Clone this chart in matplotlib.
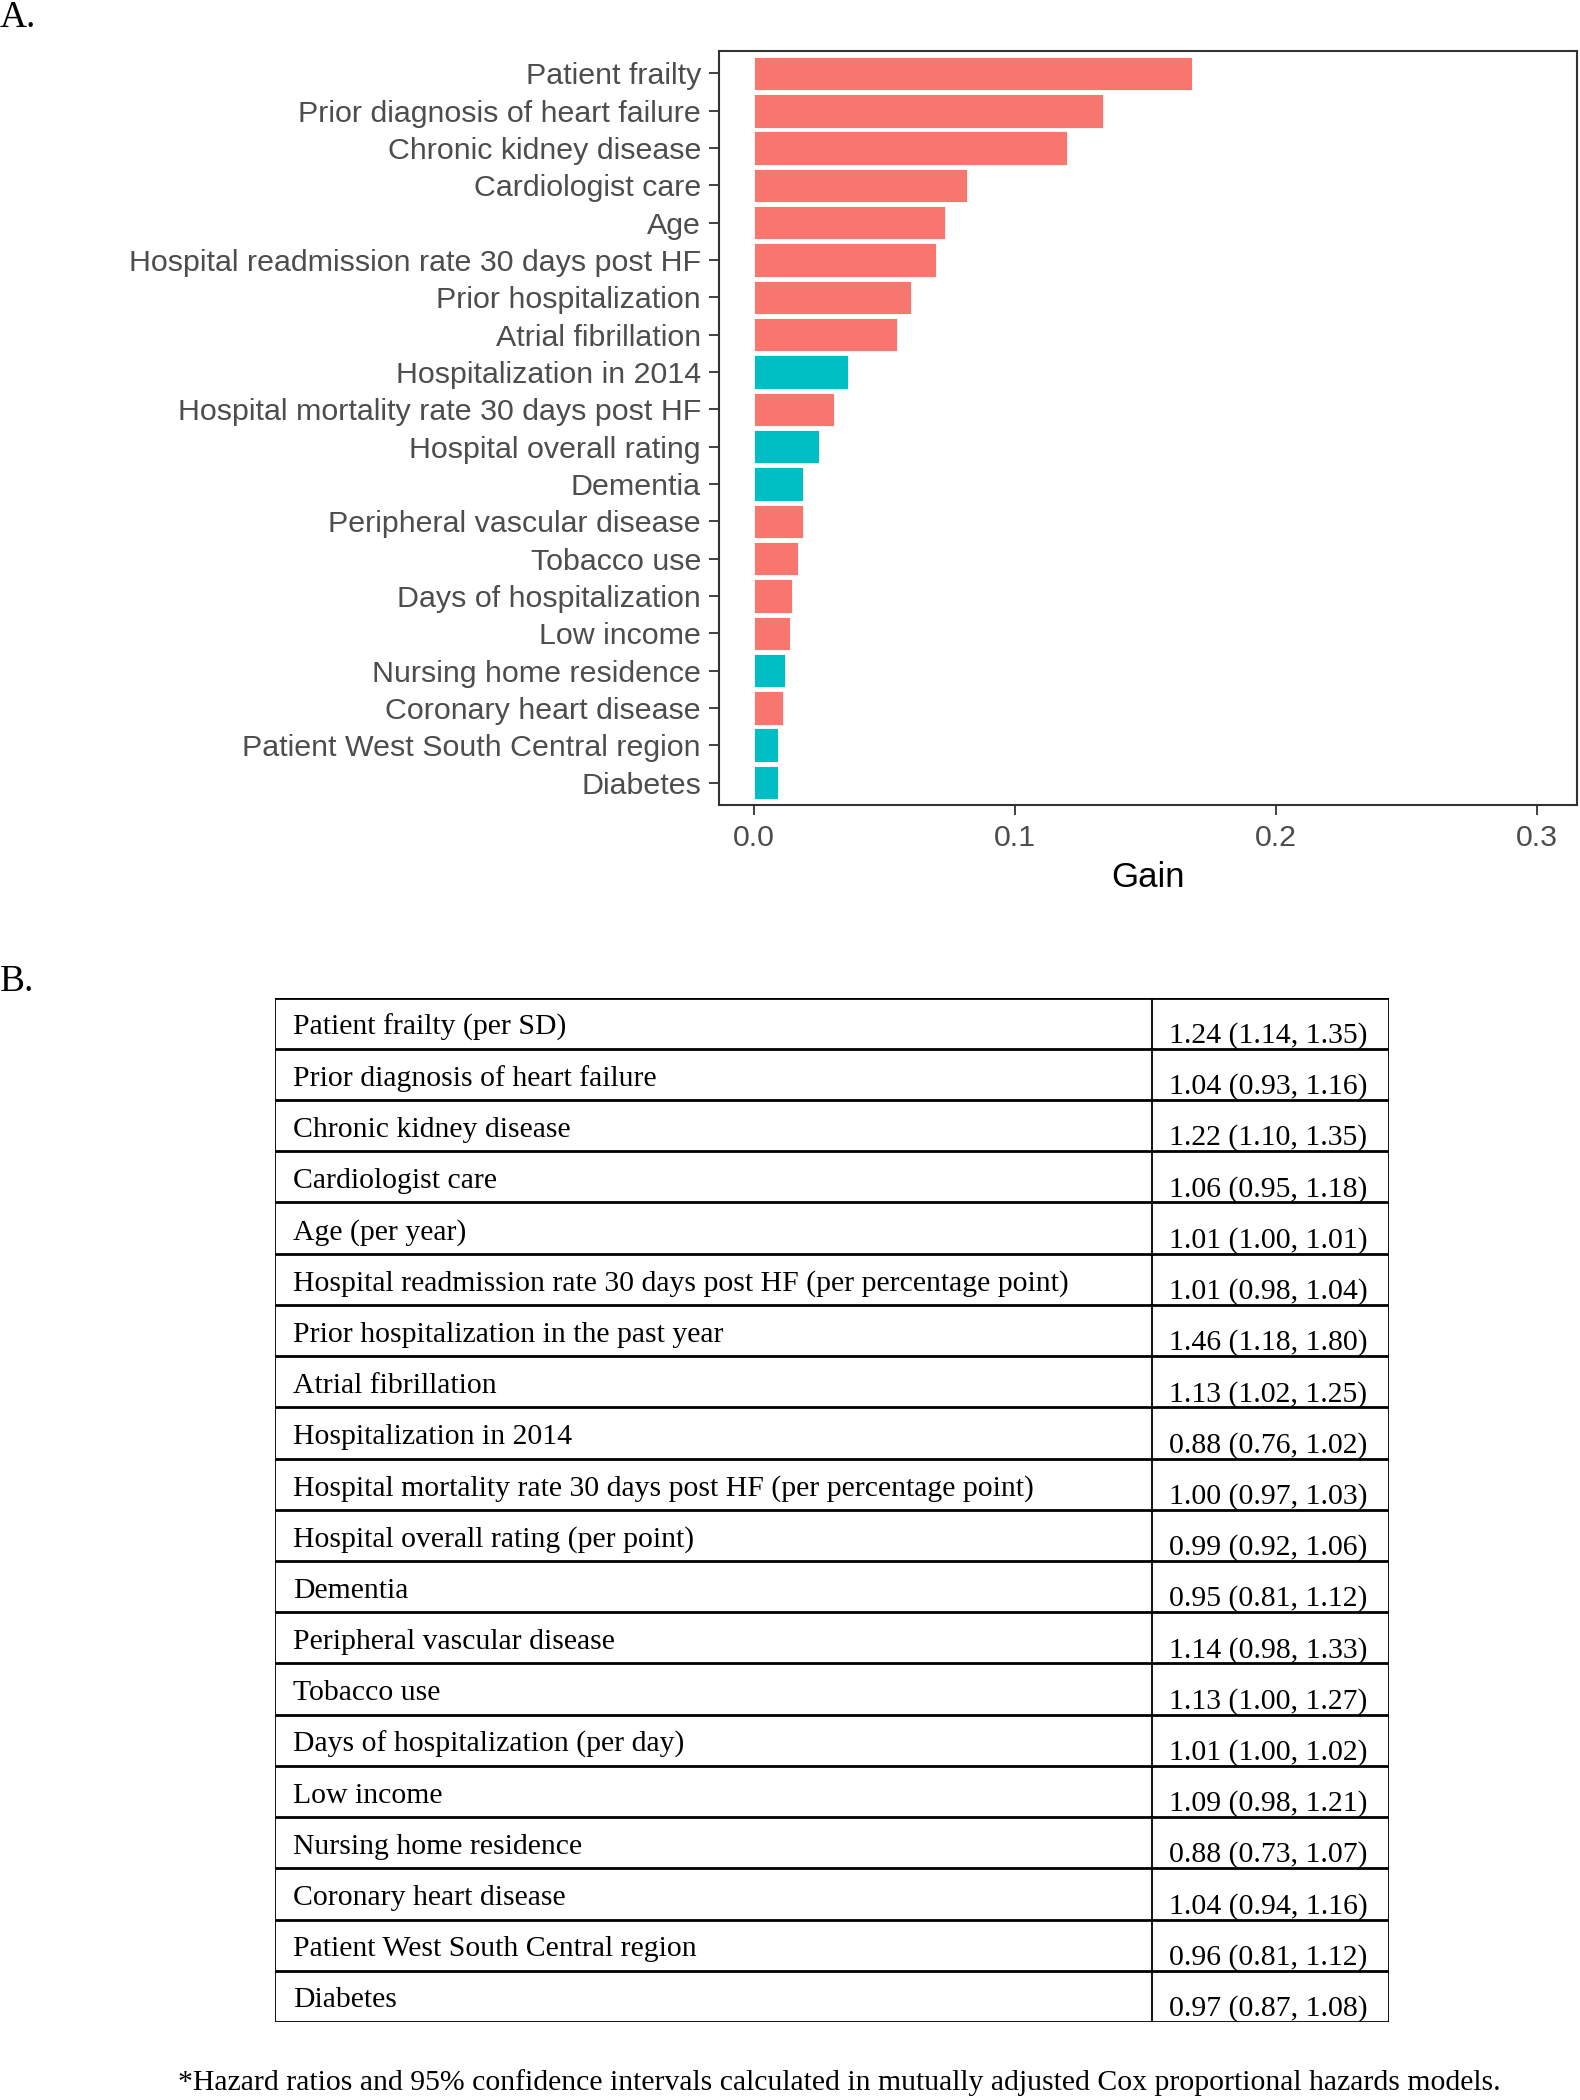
import matplotlib
matplotlib.use("Agg")
import matplotlib.pyplot as plt
import numpy as np

# ---------------- data ----------------
features = ["Patient frailty", "Prior diagnosis of heart failure", "Chronic kidney disease",
            "Cardiologist care", "Age", "Hospital readmission rate 30 days post HF",
            "Prior hospitalization", "Atrial fibrillation", "Hospitalization in 2014",
            "Hospital mortality rate 30 days post HF", "Hospital overall rating", "Dementia",
            "Peripheral vascular disease", "Tobacco use", "Days of hospitalization",
            "Low income", "Nursing home residence", "Coronary heart disease",
            "Patient West South Central region", "Diabetes"]
gain = [0.168, 0.134, 0.120, 0.0818, 0.0733, 0.0697, 0.0604, 0.0548, 0.0362,
        0.0308, 0.0252, 0.0187, 0.0187, 0.0168, 0.0148, 0.0140, 0.0121, 0.0112,
        0.0094, 0.0094]
direction = ["pos", "pos", "pos", "pos", "pos", "pos", "pos", "pos", "neg",
             "pos", "neg", "neg", "pos", "pos", "pos", "pos", "neg", "pos",
             "neg", "neg"]
xticks = [0.0, 0.1, 0.2, 0.3]

table_labels = ["Patient frailty (per SD)", "Prior diagnosis of heart failure",
                "Chronic kidney disease", "Cardiologist care", "Age (per year)",
                "Hospital readmission rate 30 days post HF (per percentage point)",
                "Prior hospitalization in the past year", "Atrial fibrillation",
                "Hospitalization in 2014",
                "Hospital mortality rate 30 days post HF (per percentage point)",
                "Hospital overall rating (per point)", "Dementia",
                "Peripheral vascular disease", "Tobacco use",
                "Days of hospitalization (per day)", "Low income",
                "Nursing home residence", "Coronary heart disease",
                "Patient West South Central region", "Diabetes"]
table_values = ["1.24 (1.14, 1.35)", "1.04 (0.93, 1.16)", "1.22 (1.10, 1.35)",
                "1.06 (0.95, 1.18)", "1.01 (1.00, 1.01)", "1.01 (0.98, 1.04)",
                "1.46 (1.18, 1.80)", "1.13 (1.02, 1.25)", "0.88 (0.76, 1.02)",
                "1.00 (0.97, 1.03)", "0.99 (0.92, 1.06)", "0.95 (0.81, 1.12)",
                "1.14 (0.98, 1.33)", "1.13 (1.00, 1.27)", "1.01 (1.00, 1.02)",
                "1.09 (0.98, 1.21)", "0.88 (0.73, 1.07)", "1.04 (0.94, 1.16)",
                "0.96 (0.81, 1.12)", "0.97 (0.87, 1.08)"]
footnote = "*Hazard ratios and 95% confidence intervals calculated in mutually adjusted Cox proportional hazards models."

colors = {"pos": "#F8766D", "neg": "#00BFC4"}

W, H = 1580, 2100
fig = plt.figure(figsize=(W / 100, H / 100), dpi=100)
fig.patch.set_facecolor("white")

sans = ["Liberation Sans", "DejaVu Sans"]
serif = ["Liberation Serif", "DejaVu Serif"]

def fx(px):
    return px / W

def fy(py):
    return 1 - py / H

# ---------------- panel A ----------------
ax = fig.add_axes([fx(719), fy(805), fx(1577) - fx(719), fy(51) - fy(805)])
ypos = np.arange(len(features))
ax.barh(ypos, gain, height=0.9, color=[colors[d] for d in direction],
        edgecolor="white", linewidth=0.6)
ax.set_ylim(len(features) - 0.4, -0.6)
ax.set_xlim(-0.0133, 0.3154)
ax.set_yticks(ypos)
ax.set_yticklabels(features, family=sans, fontsize=21.9, color="#4D4D4D")
ax.set_xticks(xticks)
ax.set_xticklabels([f"{v:.1f}" for v in xticks], family=sans, fontsize=21.9, color="#4D4D4D")
ax.set_xlabel("Gain", family=sans, fontsize=25, color="black", labelpad=6)
ax.tick_params(axis="both", length=7, width=1.3, color="#333333")
ax.tick_params(axis="y", pad=6)
ax.tick_params(axis="x", pad=7)
for s in ax.spines.values():
    s.set_color("#333333")
    s.set_linewidth(1.5)

fig.text(0.0, fy(18), "A.", family=serif, fontsize=27, va="center", ha="left")
fig.text(0.0, fy(982), "B.", family=serif, fontsize=27, va="center", ha="left")

# ---------------- panel B (table) ----------------
tl, tr, tt, tb = 274.5, 1388.6, 997.6, 2022
tax = fig.add_axes([fx(tl), fy(tb), fx(tr) - fx(tl), fy(tt) - fy(tb)])
n = len(table_labels)
tax.set_xlim(0, 1)
tax.set_ylim(n, 0)
tax.axis("off")
div = (1151.5 - tl) / (tr - tl)
tax.hlines(np.arange(n + 1), 0, 1, color="black", linewidth=2.0)
tax.vlines([0, div, 1], 0, n, color="black", linewidth=1.3)
for i, (lab, val) in enumerate(zip(table_labels, table_values)):
    tax.text(0.0166, i + 0.58, lab, family=serif, fontsize=21.4, va="center", ha="left")
    tax.text(div + 0.0155, i + 0.74, val, family=serif, fontsize=21.4, va="center", ha="left")

fig.text(fx(178), fy(2083), footnote, family=serif, fontsize=21.4, va="center", ha="left")

fig.savefig("out.png", dpi=100, facecolor="white")
